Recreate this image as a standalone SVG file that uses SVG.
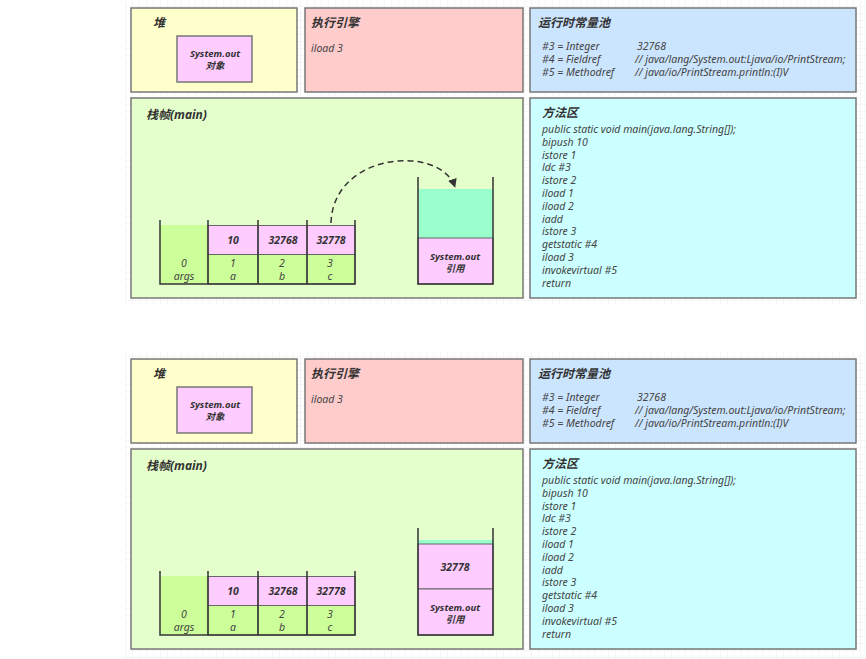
<svg xmlns="http://www.w3.org/2000/svg" width="866" height="659" viewBox="0 0 866 659">
<defs>
<style>
text{font-family:"Noto Sans","Noto Sans CJK SC",sans-serif;font-style:italic;fill:#333}
.t{font-size:12px;font-weight:bold}
.c{font-size:10.5px;fill:#444}
.b{font-size:9.5px;font-weight:bold;text-anchor:middle}
.n{font-size:10.5px;font-weight:bold;text-anchor:middle}
.l{font-size:10.5px;text-anchor:middle;fill:#444}
.box{stroke:#777;stroke-width:1.5}
.wall{stroke:#333;stroke-width:1.5;fill:none}
.cell{stroke:#666;stroke-width:1}
.pink{fill:#ffccff}
.green{fill:#ccff99}
.teal{fill:#99ffcc}
</style>
<pattern id="grid" width="7" height="7" patternUnits="userSpaceOnUse">
<path d="M7 0V7M0 7H7" stroke="#ececec" stroke-width="1" fill="none"/>
</pattern>
<marker id="arr" viewBox="0 0 10 10" refX="9" refY="5" markerWidth="9" markerHeight="9" orient="auto" markerUnits="userSpaceOnUse">
<path d="M0 0L10 5L0 10z" fill="#333"/>
</marker>
</defs>
<rect width="866" height="659" fill="#fff"/>
<rect x="125" y="0" width="741" height="305" fill="url(#grid)"/>
<rect x="125" y="351" width="741" height="308" fill="url(#grid)"/>

<!-- Top section -->
<g id="heap1">
<rect class="box" x="131" y="8" width="166" height="84" fill="#ffffcc"/>
<text class="t" x="153" y="27">堆</text>
<rect class="box" x="177" y="36" width="75" height="46" fill="#ffccff"/>
<text class="b" x="215" y="57">System.out</text>
<text class="b" x="215" y="69">对象</text>
</g>
<g id="engine1">
<rect class="box" x="305" y="8" width="218" height="84" fill="#ffcccc"/>
<text class="t" x="311" y="27">执行引擎</text>
<text class="c" x="311" y="52">iload 3</text>
</g>
<g id="pool1">
<rect class="box" x="530" y="8" width="326" height="84" fill="#cce5ff"/>
<text class="t" x="538" y="27">运行时常量池</text>
<text class="c" x="542" y="50">#3 = Integer</text>
<text class="c" x="637" y="50">32768</text>
<text class="c" x="542" y="63">#4 = Fieldref</text>
<text class="c" x="635" y="63">// java/lang/System.out:Ljava/io/PrintStream;</text>
<text class="c" x="542" y="76">#5 = Methodref</text>
<text class="c" x="635" y="76">// java/io/PrintStream.println:(I)V</text>
</g>
<g id="frame1">
<rect class="box" x="131" y="98" width="392" height="200" fill="#e5ffcc"/>
<text class="t" x="146" y="119">栈帧(main)</text>
</g>
<g id="locals1">
<rect class="green" x="160" y="225" width="48" height="59"/>
<rect class="pink cell" x="208" y="225.5" width="147" height="29"/>
<rect class="green cell" x="208" y="254.5" width="147" height="29.5"/>
<line class="cell" x1="258" y1="225" x2="258" y2="284"/>
<line class="cell" x1="307" y1="225" x2="307" y2="284"/>
<path class="wall" d="M160 220V284H355V220M208 220V284M258 220V284M307 220V284"/>
<text class="n" x="233" y="244">10</text>
<text class="n" x="283" y="244">32768</text>
<text class="n" x="331" y="244">32778</text>
<text class="l" x="184" y="267">0</text>
<text class="l" x="184" y="280">args</text>
<text class="l" x="233" y="267">1</text>
<text class="l" x="233" y="280">a</text>
<text class="l" x="282" y="267">2</text>
<text class="l" x="282" y="280">b</text>
<text class="l" x="330" y="267">3</text>
<text class="l" x="330" y="280">c</text>
</g>
<g id="opstack1">
<rect class="teal" x="418" y="189" width="75" height="49"/>
<rect class="pink cell" x="418" y="238" width="75" height="46"/>
<path class="wall" d="M418 177V284H493V177"/>
<text class="b" x="455" y="260">System.out</text>
<text class="b" x="455" y="272">引用</text>
</g>
<g id="method1">
<rect class="box" x="530" y="98" width="326" height="200" fill="#ccffff"/>
<text class="t" x="542" y="117">方法区</text>
<text class="c" x="542" y="133">public static void main(java.lang.String[]);</text>
<text class="c" x="542" y="145.8">bipush 10</text>
<text class="c" x="542" y="158.6">istore 1</text>
<text class="c" x="542" y="171.4">ldc #3</text>
<text class="c" x="542" y="184.2">istore 2</text>
<text class="c" x="542" y="197">iload 1</text>
<text class="c" x="542" y="209.8">iload 2</text>
<text class="c" x="542" y="222.6">iadd</text>
<text class="c" x="542" y="235.4">istore 3</text>
<text class="c" x="542" y="248.2">getstatic #4</text>
<text class="c" x="542" y="261">iload 3</text>
<text class="c" x="542" y="273.8">invokevirtual #5</text>
<text class="c" x="542" y="286.6">return</text>
</g>
<g id="connectors">
<path d="M331 223C333 152 440 144 455 187" fill="none" stroke="#333" stroke-width="1.5" stroke-dasharray="6 4" marker-end="url(#arr)"/>
</g>

<!-- Bottom section -->
<g id="heap2">
<rect class="box" x="131" y="359" width="166" height="84" fill="#ffffcc"/>
<text class="t" x="153" y="378">堆</text>
<rect class="box" x="177" y="387" width="75" height="46" fill="#ffccff"/>
<text class="b" x="215" y="408">System.out</text>
<text class="b" x="215" y="420">对象</text>
</g>
<g id="engine2">
<rect class="box" x="305" y="359" width="218" height="84" fill="#ffcccc"/>
<text class="t" x="311" y="378">执行引擎</text>
<text class="c" x="311" y="403">iload 3</text>
</g>
<g id="pool2">
<rect class="box" x="530" y="359" width="326" height="84" fill="#cce5ff"/>
<text class="t" x="538" y="378">运行时常量池</text>
<text class="c" x="542" y="401">#3 = Integer</text>
<text class="c" x="637" y="401">32768</text>
<text class="c" x="542" y="414">#4 = Fieldref</text>
<text class="c" x="635" y="414">// java/lang/System.out:Ljava/io/PrintStream;</text>
<text class="c" x="542" y="427">#5 = Methodref</text>
<text class="c" x="635" y="427">// java/io/PrintStream.println:(I)V</text>
</g>
<g id="frame2">
<rect class="box" x="131" y="449" width="392" height="200" fill="#e5ffcc"/>
<text class="t" x="146" y="470">栈帧(main)</text>
</g>
<g id="locals2">
<rect class="green" x="160" y="576" width="48" height="59"/>
<rect class="pink cell" x="208" y="576.5" width="147" height="29"/>
<rect class="green cell" x="208" y="605.5" width="147" height="29.5"/>
<line class="cell" x1="258" y1="576" x2="258" y2="635"/>
<line class="cell" x1="307" y1="576" x2="307" y2="635"/>
<path class="wall" d="M160 571V635H355V571M208 571V635M258 571V635M307 571V635"/>
<text class="n" x="233" y="595">10</text>
<text class="n" x="283" y="595">32768</text>
<text class="n" x="331" y="595">32778</text>
<text class="l" x="184" y="618">0</text>
<text class="l" x="184" y="631">args</text>
<text class="l" x="233" y="618">1</text>
<text class="l" x="233" y="631">a</text>
<text class="l" x="282" y="618">2</text>
<text class="l" x="282" y="631">b</text>
<text class="l" x="330" y="618">3</text>
<text class="l" x="330" y="631">c</text>
</g>
<g id="opstack2">
<rect class="teal" x="418" y="540" width="75" height="4"/>
<rect class="pink cell" x="418" y="544" width="75" height="45"/>
<rect class="pink cell" x="418" y="589" width="75" height="46"/>
<path class="wall" d="M418 528V635H493V528"/>
<text class="n" x="455" y="571">32778</text>
<text class="b" x="455" y="611">System.out</text>
<text class="b" x="455" y="623">引用</text>
</g>
<g id="method2">
<rect class="box" x="530" y="449" width="326" height="200" fill="#ccffff"/>
<text class="t" x="542" y="468">方法区</text>
<text class="c" x="542" y="484">public static void main(java.lang.String[]);</text>
<text class="c" x="542" y="496.8">bipush 10</text>
<text class="c" x="542" y="509.6">istore 1</text>
<text class="c" x="542" y="522.4">ldc #3</text>
<text class="c" x="542" y="535.2">istore 2</text>
<text class="c" x="542" y="548">iload 1</text>
<text class="c" x="542" y="560.8">iload 2</text>
<text class="c" x="542" y="573.6">iadd</text>
<text class="c" x="542" y="586.4">istore 3</text>
<text class="c" x="542" y="599.2">getstatic #4</text>
<text class="c" x="542" y="612">iload 3</text>
<text class="c" x="542" y="624.8">invokevirtual #5</text>
<text class="c" x="542" y="637.6">return</text>
</g>
</svg>
